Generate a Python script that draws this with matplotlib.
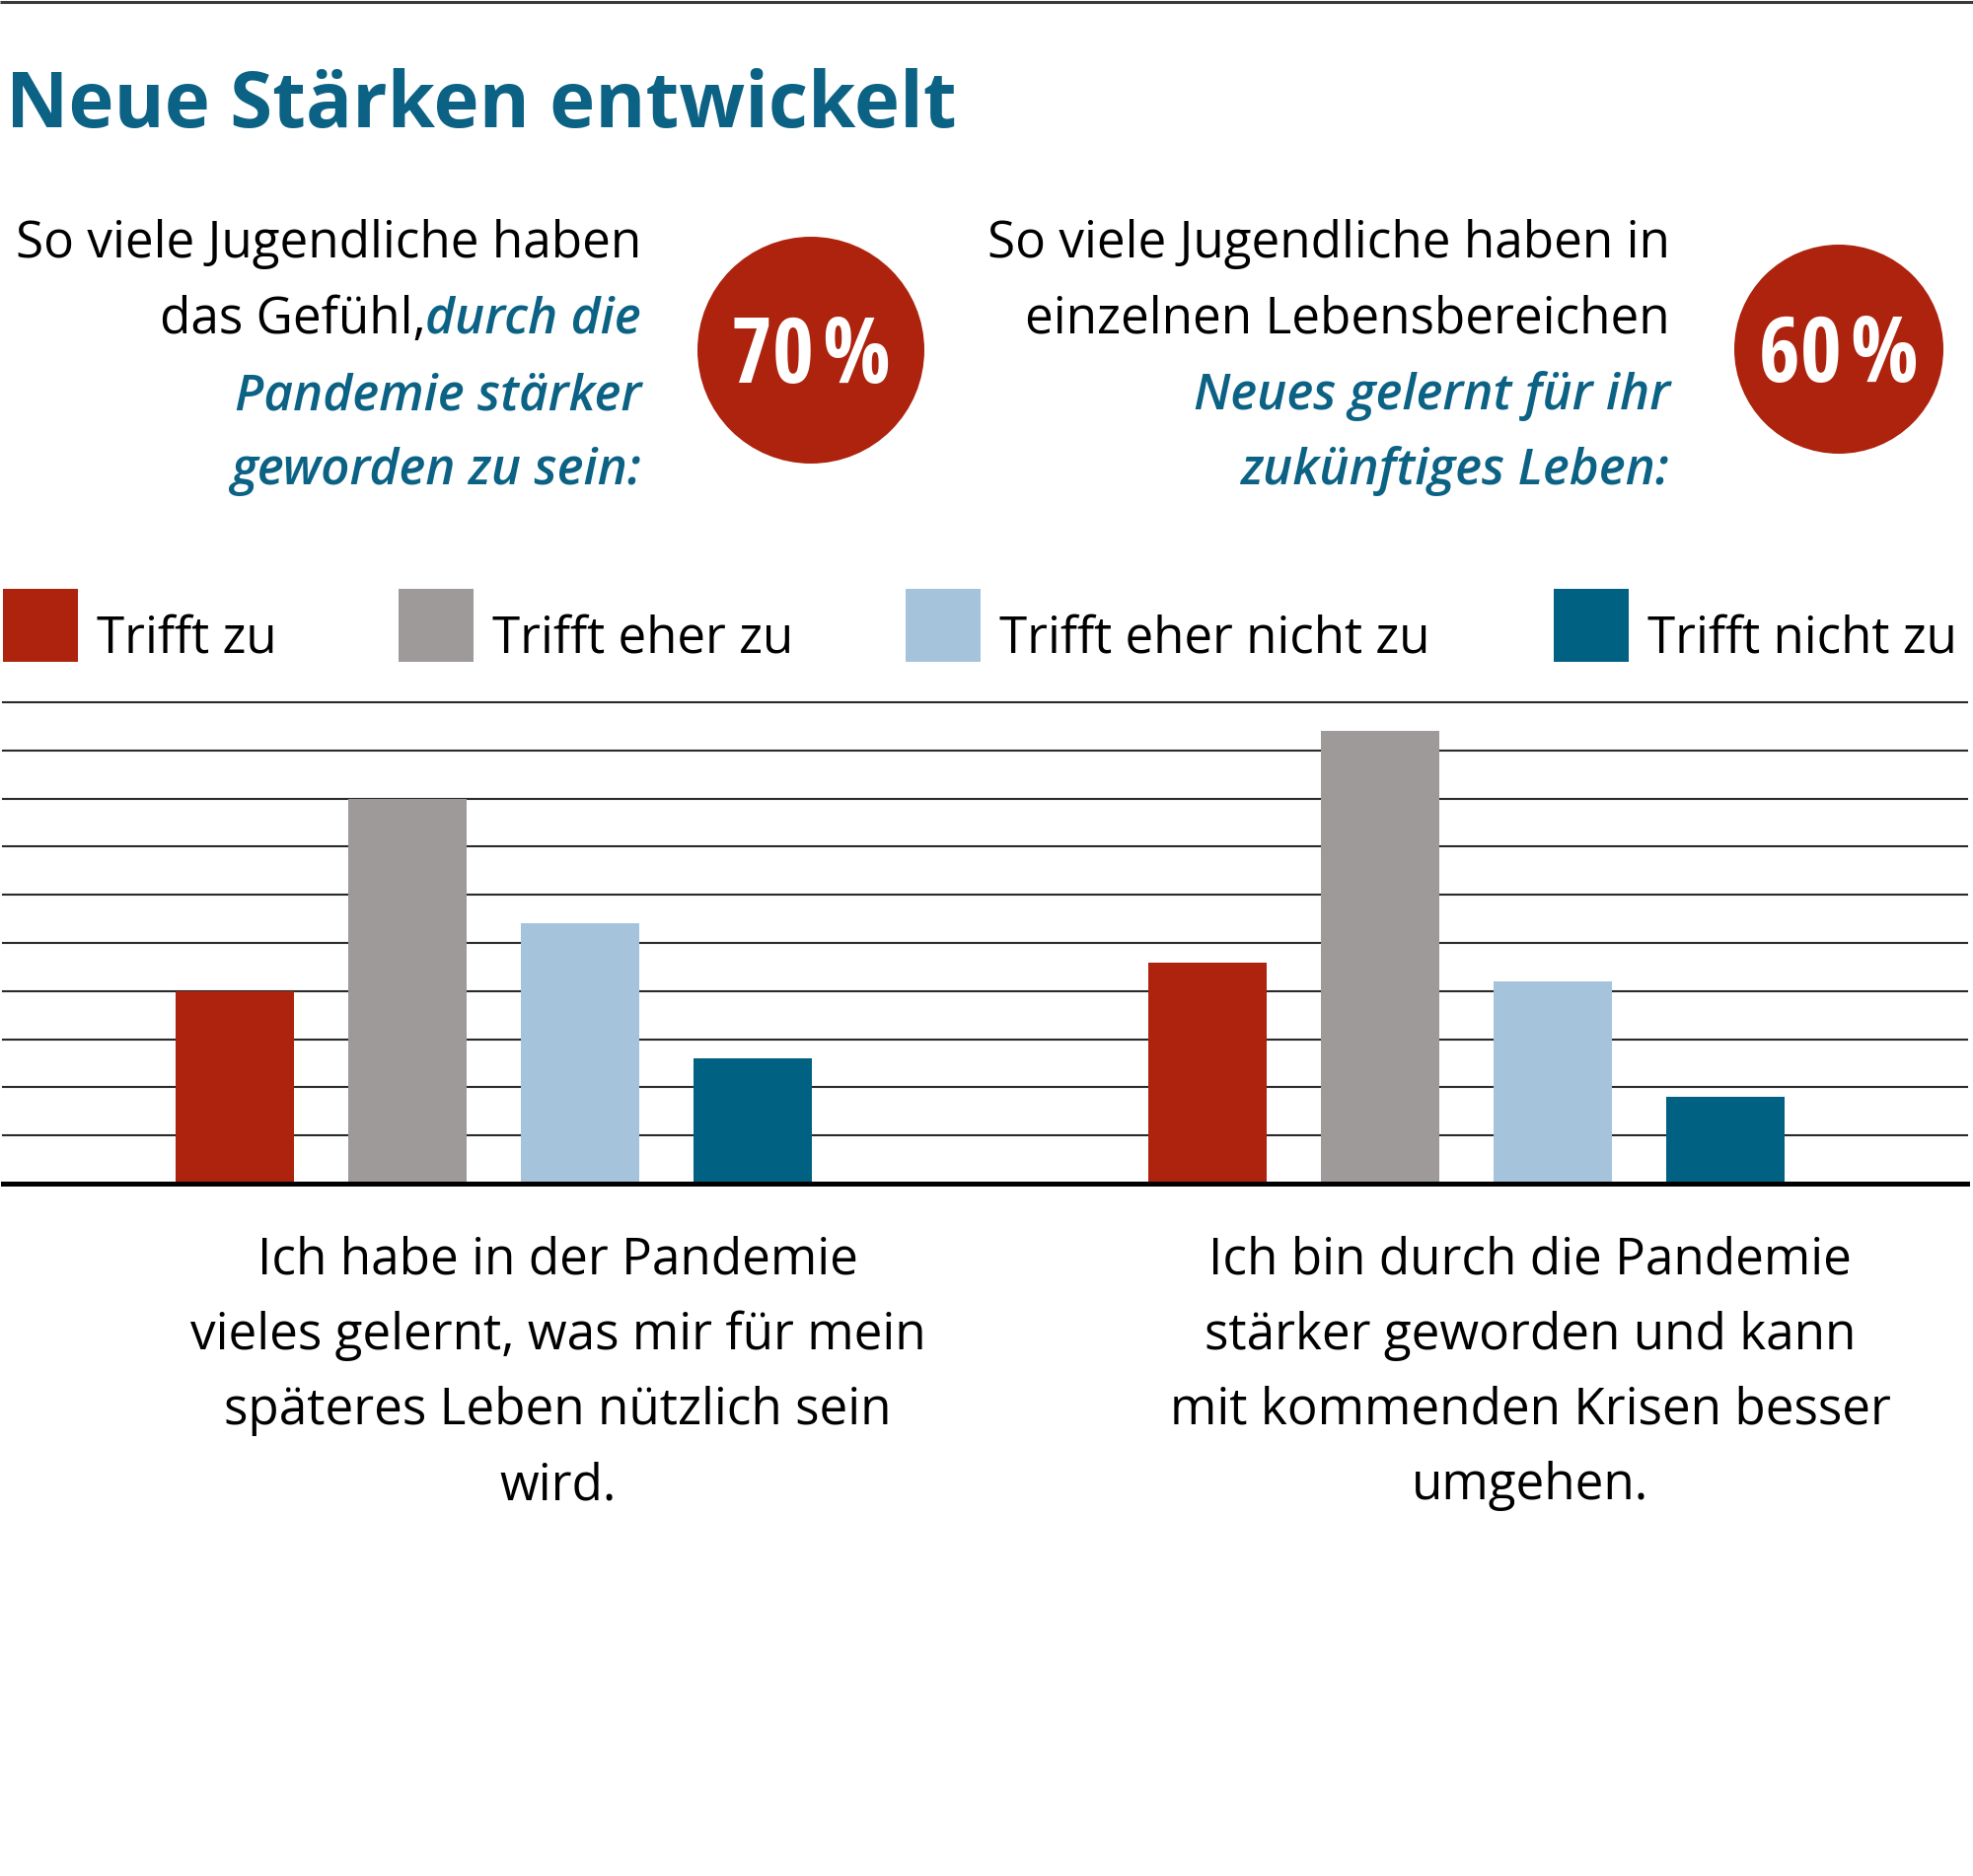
import matplotlib
matplotlib.use("Agg")
import matplotlib.pyplot as plt
from matplotlib.font_manager import FontProperties
from matplotlib.patches import Circle, Rectangle
from matplotlib.transforms import blended_transform_factory

# ---------------- data ----------------
categories = [
    "Ich habe in der Pandemie\nvieles gelernt, was mir für mein\nspäteres Leben nützlich sein\nwird.",
    "Ich bin durch die Pandemie\nstärker geworden und kann\nmit kommenden Krisen besser\numgehen.",
]
series_names = ["Trifft zu", "Trifft eher zu", "Trifft eher nicht zu", "Trifft nicht zu"]
trifft_zu = [20, 23]
trifft_eher_zu = [40, 47]
trifft_eher_nicht_zu = [27, 21]
trifft_nicht_zu = [13, 9]
grid_values = [5, 10, 15, 20, 25, 30, 35, 40, 45, 50]
highlight_values = ["70\u200a%", "60\u200a%"]
title = "Neue Stärken entwickelt"

colors = ["#AD230E", "#9D9A99", "#A5C4DC", "#006183"]
TEAL = "#0B6284"

W, H, DPI = 2000, 1902, 100

FP_BODY = FontProperties(family=["Open Sans", "DejaVu Sans"], weight="normal")
FP_ITAL = FontProperties(family=["Open Sans", "DejaVu Sans"], weight="semibold", style="italic")
FP_TITLE = FontProperties(family=["Open Sans", "DejaVu Sans"], weight="bold")
FP_BOLD = FontProperties(family=["Open Sans Condensed", "Open Sans", "DejaVu Sans"], stretch="condensed", weight="bold")

fig = plt.figure(figsize=(W / DPI, H / DPI), dpi=DPI)
renderer = fig.canvas.get_renderer()

ov = fig.add_axes([0, 0, 1, 1], zorder=5)
ov.set_xlim(0, W)
ov.set_ylim(H, 0)
ov.axis("off")
ov.patch.set_visible(False)


def put(x, y, s, size, fp, ha="left", color="black"):
    t = ov.text(x, y, s, ha=ha, va="baseline", fontproperties=fp, color=color)
    t.set_fontsize(size)
    return t


def width(t):
    return t.get_window_extent(renderer).width


def fit_size(s, target, base, fp, cap=1.0):
    t = put(0, 0, s, base, fp)
    w = width(t)
    t.remove()
    return min(base * cap, base * target / w)


# top border
ov.plot([0, W], [2, 2], color="#3a3a3a", lw=2.2, solid_capstyle="butt")

# title
ts = fit_size(title, 964, 64.5, FP_TITLE)
put(6, 129, title, ts, FP_TITLE, color=TEAL)

# body text sizes
bs = fit_size("vieles gelernt, was mir für mein", 747, 42.3, FP_BODY)
its = fit_size("Pandemie stärker", 412, 42.3, FP_ITAL)

# left subtitle
put(650, 261, "So viele Jugendliche haben", bs, FP_BODY, ha="right")
t2 = put(650, 338, "durch die", its, FP_ITAL, ha="right", color=TEAL)
fig.canvas.draw()
x_left = 650 - width(t2)
put(x_left, 338, "das Gefühl,", bs, FP_BODY, ha="right")
put(650, 415, "Pandemie stärker", its, FP_ITAL, ha="right", color=TEAL)
put(650, 491, "geworden zu sein:", its, FP_ITAL, ha="right", color=TEAL)

# right subtitle
put(1693, 261, "So viele Jugendliche haben in", bs, FP_BODY, ha="right")
put(1693, 338, "einzelnen Lebensbereichen", bs, FP_BODY, ha="right")
put(1693, 415, "Neues gelernt für ihr", its, FP_ITAL, ha="right", color=TEAL)
put(1693, 491, "zukünftiges Leben:", its, FP_ITAL, ha="right", color=TEAL)

# highlight circles
cs = fit_size(highlight_values[0], 162, 67.5, FP_BOLD)
for (cx, cy, r), lab in zip([(822, 355, 115), (1864, 354, 106)], highlight_values):
    ov.add_patch(Circle((cx, cy), r, color=colors[0], lw=0))
    put(cx, cy + 33, lab, cs, FP_BOLD, ha="center", color="white")

# legend
ls = fit_size("Trifft eher nicht zu", 437, 45, FP_BODY)
leg_x = [3, 404, 918, 1575]
for lx, c, nm in zip(leg_x, colors, series_names):
    ov.add_patch(Rectangle((lx, 597), 76, 74, color=c, lw=0))
    put(lx + 95, 661, nm, ls, FP_BODY)

# ---------------- bars ----------------
ax = fig.add_axes([3 / W, 1 - 1200 / H, 1991 / W, (1200 - 712) / H], zorder=1)
ax.set_xlim(-0.505, 1.5155)
ax.set_ylim(0, 50)
ax.axis("off")
for v in grid_values:
    ax.axhline(v, color="#2a2a2a", lw=1.5, zorder=0, clip_on=False)
ax.axhline(0, color="black", lw=3.6, zorder=3, clip_on=False)

step, bw = 0.1776, 0.1218
groups = [0, 1]
series = [trifft_zu, trifft_eher_zu, trifft_eher_nicht_zu, trifft_nicht_zu]
for i, (vals, c) in enumerate(zip(series, colors)):
    ax.bar([g + (i - 1.5) * step for g in groups], vals, width=bw, color=c, zorder=2, lw=0)

tr = blended_transform_factory(ax.transData, ov.transData)
for g, lab in zip(groups, categories):
    for k, line in enumerate(lab.split("\n")):
        t = ax.text(g + 0.066, 1291 + k * 76.5, line, transform=tr, ha="center", va="baseline",
                    fontproperties=FP_BODY)
        t.set_fontsize(bs)

fig.savefig("out.png", dpi=DPI)
